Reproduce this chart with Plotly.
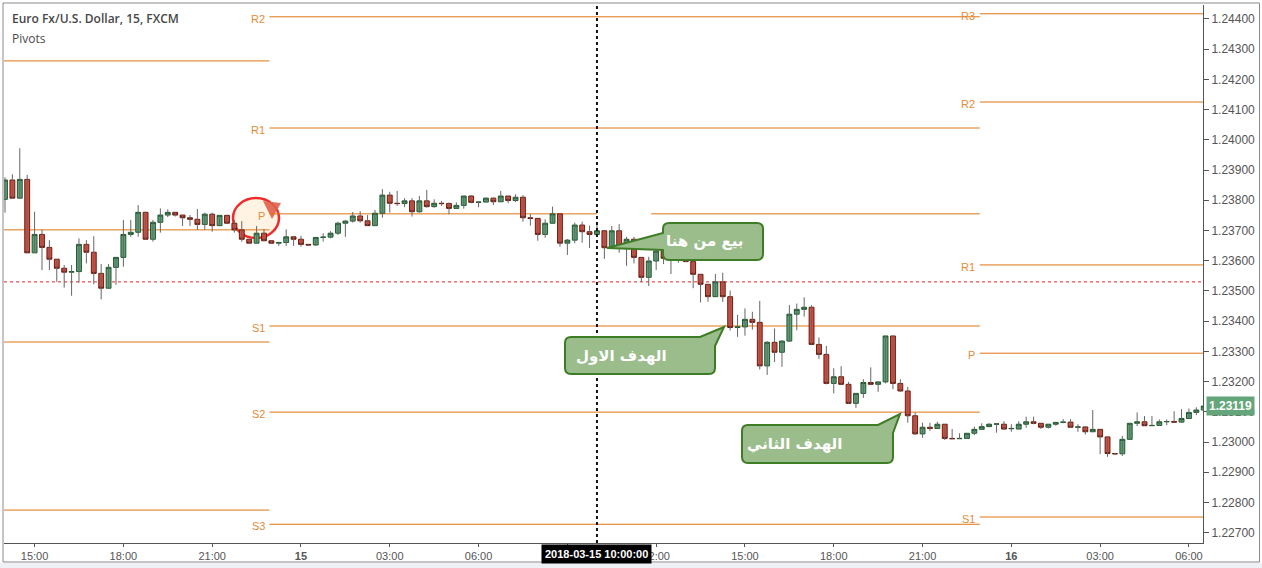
import numpy as np
import pandas as pd
import plotly.graph_objects as go

# ---------------- data ----------------
start_time = "2018-03-14 14:00"

opens = [1.23803,1.23867,1.23807,1.23869,1.23626,1.23687,1.23644,1.23605,1.23575,1.23562,
         1.23564,1.23654,1.23628,1.23558,1.23509,1.23578,1.23611,1.23687,1.23694,1.23760,
         1.23671,1.23727,1.23751,1.23760,1.23751,1.23742,1.23737,1.23720,1.23754,1.23716,
         1.23750,1.23724,1.23702,1.23671,1.23658,1.23691,1.23666,1.23658,1.23660,1.23679,
         1.23671,1.23654,1.23652,1.23677,1.23678,1.23691,1.23724,1.23731,1.23748,1.23732,
         1.23716,1.23757,1.23817,1.23790,1.23789,1.23798,1.23762,1.23798,1.23779,1.23790,
         1.23789,1.23773,1.23783,1.23814,1.23793,1.23794,1.23807,1.23795,1.23814,1.23799,
         1.23810,1.23742,1.23740,1.23687,1.23724,1.23755,1.23658,1.23668,1.23718,1.23696,
         1.23687,1.23699,1.23643,1.23699,1.23646,1.23671,1.23611,1.23545,1.23599,1.23632,
         1.23608,1.23632,1.23619,1.23597,1.23555,1.23522,1.23481,1.23530,1.23481,1.23379,
         1.23381,1.23406,1.23396,1.23252,1.23330,1.23297,1.23334,1.23423,1.23439,1.23446,
         1.23323,1.23290,1.23194,1.23216,1.23191,1.23128,1.23161,1.23197,1.23191,1.23199,
         1.23351,1.23194,1.23169,1.23087,1.23027,1.23049,1.23045,1.23059,1.23012,1.23011,
         1.23012,1.23029,1.23042,1.23051,1.23059,1.23059,1.23044,1.23043,1.23059,1.23067,
         1.23062,1.23049,1.23059,1.23065,1.23066,1.23049,1.23050,1.23034,1.23042,1.23017,
         1.22962,1.22961,1.23009,1.23062,1.23067,1.23054,1.23055,1.23067,1.23068,1.23066,
         1.23078,1.23098,1.23106]
highs = [1.23876,1.23886,1.23972,1.23884,1.23762,1.23702,1.23668,1.23605,1.23586,1.23586,
         1.23674,1.23668,1.23681,1.23589,1.23589,1.23611,1.23735,1.23735,1.23784,1.23762,
         1.23735,1.23773,1.23770,1.23760,1.23751,1.23751,1.23771,1.23759,1.23759,1.23750,
         1.23750,1.23735,1.23731,1.23671,1.23715,1.23704,1.23666,1.23663,1.23704,1.23682,
         1.23682,1.23655,1.23677,1.23691,1.23698,1.23729,1.23735,1.23761,1.23764,1.23751,
         1.23768,1.23837,1.23828,1.23831,1.23807,1.23807,1.23814,1.23834,1.23803,1.23798,
         1.23793,1.23793,1.23814,1.23817,1.23794,1.23809,1.23809,1.23831,1.23814,1.23820,
         1.23817,1.23754,1.23740,1.23737,1.23779,1.23755,1.23672,1.23726,1.23729,1.23716,
         1.23724,1.23699,1.23715,1.23721,1.23679,1.23679,1.23611,1.23613,1.23671,1.23658,
         1.23643,1.23639,1.23619,1.23611,1.23555,1.23522,1.23556,1.23560,1.23501,1.23421,
         1.23442,1.23431,1.23467,1.23334,1.23376,1.23337,1.23453,1.23458,1.23479,1.23453,
         1.23346,1.23318,1.23244,1.23251,1.23199,1.23161,1.23208,1.23247,1.23199,1.23351,
         1.23351,1.23208,1.23183,1.23098,1.23064,1.23064,1.23067,1.23059,1.23043,1.23029,
         1.23029,1.23051,1.23062,1.23062,1.23062,1.23069,1.23059,1.23069,1.23084,1.23084,
         1.23062,1.23059,1.23067,1.23076,1.23076,1.23059,1.23053,1.23106,1.23042,1.23017,
         1.22964,1.23020,1.23062,1.23098,1.23086,1.23086,1.23075,1.23075,1.23102,1.23109,
         1.23111,1.23115,1.23131]
lows = [1.23759,1.23804,1.23807,1.23626,1.23626,1.23569,1.23569,1.23530,1.23511,1.23484,
        1.23527,1.23591,1.23522,1.23472,1.23509,1.23520,1.23580,1.23679,1.23679,1.23671,
        1.23663,1.23693,1.23744,1.23746,1.23715,1.23715,1.23702,1.23702,1.23696,1.23716,
        1.23724,1.23693,1.23663,1.23658,1.23658,1.23666,1.23658,1.23649,1.23649,1.23649,
        1.23646,1.23650,1.23649,1.23663,1.23674,1.23685,1.23679,1.23726,1.23726,1.23716,
        1.23716,1.23742,1.23759,1.23781,1.23777,1.23746,1.23759,1.23775,1.23775,1.23781,
        1.23754,1.23772,1.23772,1.23790,1.23777,1.23794,1.23784,1.23794,1.23790,1.23794,
        1.23729,1.23716,1.23666,1.23676,1.23724,1.23646,1.23619,1.23658,1.23660,1.23642,
        1.23682,1.23606,1.23643,1.23626,1.23583,1.23591,1.23529,1.23516,1.23569,1.23589,
        1.23556,1.23593,1.23597,1.23509,1.23462,1.23464,1.23481,1.23464,1.23369,1.23348,
        1.23352,1.23372,1.23240,1.23222,1.23265,1.23249,1.23332,1.23370,1.23415,1.23323,
        1.23275,1.23191,1.23161,1.23191,1.23128,1.23113,1.23146,1.23191,1.23166,1.23194,
        1.23175,1.23166,1.23064,1.23024,1.23014,1.23037,1.23045,1.23007,1.23010,1.23010,
        1.23010,1.23023,1.23040,1.23051,1.23031,1.23040,1.23034,1.23043,1.23047,1.23059,
        1.23043,1.23045,1.23054,1.23062,1.23049,1.23034,1.23025,1.23034,1.22960,1.22951,
        1.22960,1.22954,1.23007,1.23053,1.23054,1.23053,1.23054,1.23056,1.23064,1.23064,
        1.23076,1.23089,1.23082]
closes = [1.23867,1.23807,1.23869,1.23626,1.23687,1.23644,1.23605,1.23575,1.23562,1.23564,
          1.23654,1.23628,1.23558,1.23509,1.23578,1.23611,1.23687,1.23694,1.23760,1.23671,
          1.23727,1.23751,1.23760,1.23751,1.23742,1.23737,1.23720,1.23754,1.23716,1.23750,
          1.23724,1.23702,1.23671,1.23658,1.23691,1.23666,1.23658,1.23660,1.23679,1.23671,
          1.23654,1.23652,1.23677,1.23678,1.23691,1.23724,1.23731,1.23748,1.23732,1.23716,
          1.23757,1.23817,1.23790,1.23789,1.23798,1.23762,1.23798,1.23779,1.23790,1.23789,
          1.23773,1.23783,1.23814,1.23793,1.23794,1.23807,1.23795,1.23814,1.23799,1.23810,
          1.23742,1.23740,1.23687,1.23724,1.23755,1.23658,1.23668,1.23718,1.23696,1.23687,
          1.23699,1.23643,1.23699,1.23646,1.23671,1.23611,1.23545,1.23599,1.23632,1.23608,
          1.23632,1.23619,1.23597,1.23555,1.23522,1.23481,1.23530,1.23481,1.23379,1.23381,
          1.23406,1.23396,1.23252,1.23330,1.23297,1.23334,1.23423,1.23439,1.23446,1.23323,
          1.23290,1.23194,1.23216,1.23191,1.23128,1.23161,1.23197,1.23191,1.23199,1.23351,
          1.23194,1.23169,1.23087,1.23027,1.23049,1.23045,1.23059,1.23012,1.23011,1.23012,
          1.23029,1.23042,1.23051,1.23059,1.23060,1.23043,1.23045,1.23059,1.23067,1.23062,
          1.23049,1.23059,1.23065,1.23066,1.23049,1.23050,1.23034,1.23042,1.23017,1.22962,
          1.22961,1.23009,1.23062,1.23067,1.23054,1.23055,1.23067,1.23068,1.23066,1.23078,
          1.23098,1.23106,1.23119]

tick_times = ["2018-03-14 15:00", "2018-03-14 18:00", "2018-03-14 21:00", "2018-03-15 00:00",
              "2018-03-15 03:00", "2018-03-15 06:00", "2018-03-15 09:00", "2018-03-15 12:00",
              "2018-03-15 15:00", "2018-03-15 18:00", "2018-03-15 21:00", "2018-03-16 00:00",
              "2018-03-16 03:00", "2018-03-16 06:00"]
tick_labels = ["15:00", "18:00", "21:00", "<b>15</b>", "03:00", "06:00", "09:00", "12:00",
               "15:00", "18:00", "21:00", "<b>16</b>", "03:00", "06:00"]
price_ticks = [1.227, 1.228, 1.229, 1.230, 1.231, 1.232, 1.233, 1.234, 1.235,
               1.236, 1.237, 1.238, 1.239, 1.240, 1.241, 1.242, 1.243, 1.244]

# daily pivot levels (session boundaries at 23:00)
sessions = ["2018-03-14 13:00", "2018-03-14 22:56", "2018-03-15 22:56", "2018-03-16 07:00"]
piv1_names = ["R1", "P", "S1", "S2"]
piv1_vals = [1.24261, 1.23702, 1.23331, 1.22775]
piv2_names = ["R2", "R1", "P", "S1", "S2", "S3"]
piv2_vals = [1.24407, 1.24039, 1.23755, 1.23384, 1.23099, 1.22728]
piv3_names = ["R3", "R2", "R1", "P", "S1"]
piv3_vals = [1.24417, 1.24125, 1.23586, 1.23294, 1.22752]

prev_close_line = 1.23530
marker_time = "2018-03-15 10:00"
last_price = closes[-1]

times = pd.date_range(start_time, periods=len(opens), freq="15min")

# ---------------- styling ----------------
ORANGE = "#e07512"
ORANGE_TXT = "#e58a38"
GREEN_FILL, GREEN_LINE = "#5c9f74", "#1f5a30"
RED_FILL, RED_LINE = "#d84a3a", "#6e1a10"
AXIS_C = "#555555"
CALL_FILL, CALL_LINE = "#9bbd8c", "#3e7d25"

PX_L, PX_R, PX_T, PX_B = 4, 1203, 5, 543


def paper(x, y):
    return (x - PX_L) / (PX_R - PX_L), (PX_B - y) / (PX_B - PX_T)


def P(x, y):
    fx, fy = paper(x, y)
    return f"{fx:.5f},{fy:.5f}"


fig = go.Figure()

# wicks
wx, wy = [], []
for t, lo, hi in zip(times, lows, highs):
    wx += [t, t, None]
    wy += [lo, hi, None]
fig.add_trace(go.Scatter(x=wx, y=wy, mode="lines", line=dict(color="#666666", width=1),
                         hoverinfo="skip", showlegend=False))

o = np.array(opens)
c = np.array(closes)
fig.add_trace(go.Candlestick(
    x=times, open=o, close=c, high=np.maximum(o, c), low=np.minimum(o, c),
    increasing=dict(line=dict(color=GREEN_LINE, width=1), fillcolor=GREEN_FILL),
    decreasing=dict(line=dict(color=RED_LINE, width=1), fillcolor=RED_FILL),
    whiskerwidth=0, showlegend=False, hoverinfo="skip"))

shapes = []
annotations = []


def pivot_block(x0, x1, names, vals, label_shift):
    for n, v in zip(names, vals):
        if n == "P" and x0 == sessions[1]:
            segs = [(x0, marker_time), ("2018-03-15 11:50", x1)]
        else:
            segs = [(x0, x1)]
        for a, b in segs:
            shapes.append(dict(type="line", xref="x", yref="y", x0=a, x1=b, y0=v, y1=v,
                               line=dict(color=ORANGE, width=1), layer="below"))
        annotations.append(dict(x=x0, y=v, xref="x", yref="y", text=n, showarrow=False,
                                xanchor="right", yanchor="middle", xshift=label_shift, yshift=-2,
                                font=dict(family="Liberation Sans, Arial", size=11, color=ORANGE_TXT)))


pivot_block(sessions[0], sessions[1], piv1_names, piv1_vals, -2)
pivot_block(sessions[1], sessions[2], piv2_names, piv2_vals, -2)
pivot_block(sessions[2], sessions[3], piv3_names, piv3_vals, -3)

# red dotted price line
shapes.append(dict(type="line", xref="paper", yref="y", x0=0, x1=1, y0=prev_close_line, y1=prev_close_line,
                   line=dict(color="#e3262a", width=1, dash="dot"), layer="below"))

# highlight circle around P label
cx0, cy0 = paper(233, 198)
cx1, cy1 = paper(279, 238)
shapes.append(dict(type="circle", xref="paper", yref="paper", x0=cx0, y0=cy1, x1=cx1, y1=cy0,
                   fillcolor="rgba(255,243,226,0.92)", line=dict(color="#f02a2a", width=2.5), layer="below"))
shapes.append(dict(type="path", xref="paper", yref="paper",
                   path=f"M{P(263,201)} L{P(281,203)} L{P(272,219)} Z",
                   fillcolor="rgba(222,96,74,0.9)", line=dict(width=0), layer="below"))

# vertical dotted marker line
shapes.append(dict(type="line", xref="x", yref="paper", x0=marker_time, x1=marker_time, y0=0, y1=1,
                   line=dict(color="#111111", width=2, dash="dot"), layer="above"))

# callouts
r = 6
call1 = (f"M{P(663+r,223)} L{P(763-r,223)} Q{P(763,223)} {P(763,223+r)} L{P(763,260-r)} "
         f"Q{P(763,260)} {P(763-r,260)} L{P(663+r,260)} Q{P(663,260)} {P(663,260-r)} "
         f"L{P(663,250)} L{P(607,248)} L{P(663,233)} L{P(663,223+r)} Q{P(663,223)} {P(663+r,223)} Z")
call2 = (f"M{P(565+r,337)} L{P(700,337)} L{P(724,327)} L{P(715,346)} L{P(715,374-r)} "
         f"Q{P(715,374)} {P(715-r,374)} L{P(565+r,374)} Q{P(565,374)} {P(565,374-r)} "
         f"L{P(565,337+r)} Q{P(565,337)} {P(565+r,337)} Z")
call3 = (f"M{P(742+r,425)} L{P(878,425)} L{P(900,414)} L{P(893,433)} L{P(893,463-r)} "
         f"Q{P(893,463)} {P(893-r,463)} L{P(742+r,463)} Q{P(742,463)} {P(742,463-r)} "
         f"L{P(742,425+r)} Q{P(742,425)} {P(742+r,425)} Z")
for pth in (call1, call2, call3):
    shapes.append(dict(type="path", xref="paper", yref="paper", path=pth,
                       fillcolor=CALL_FILL, line=dict(color=CALL_LINE, width=2), layer="above"))

for txt, (tx, ty) in [("بيع من هنا", (704, 241)), ("الهدف الاول", (621, 356)), ("الهدف الثاني", (794, 444))]:
    fx, fy = paper(tx, ty)
    annotations.append(dict(x=fx, y=fy, xref="paper", yref="paper", text=f"<b>{txt}</b>", showarrow=False,
                            xanchor="center", yanchor="middle",
                            font=dict(family="DejaVu Sans", size=15, color="white")))

# outer frame and bottom strip
fx0, fy0 = paper(3, 562)
fx1, fy1 = paper(1259.5, 3)
shapes.append(dict(type="rect", xref="paper", yref="paper", x0=fx0, y0=fy0, x1=fx1, y1=fy1,
                   line=dict(color="#8a8a8a", width=1), fillcolor="rgba(0,0,0,0)", layer="above"))
gx0, gy0 = paper(0, 568)
gx1, gy1 = paper(1262, 563)
shapes.append(dict(type="rect", xref="paper", yref="paper", x0=gx0, y0=gy0, x1=gx1, y1=gy1,
                   line=dict(width=0), fillcolor="#eef1f6", layer="above"))

# titles
tx, ty = paper(12, 19)
annotations.append(dict(x=tx, y=ty, xref="paper", yref="paper", text="Euro Fx/U.S. Dollar, 15, FXCM",
                        showarrow=False, xanchor="left", yanchor="middle", xshift=-2,
                        font=dict(family="Open Sans", size=12, color="#474747", weight=600)))
tx, ty = paper(12, 38)
annotations.append(dict(x=tx, y=ty, xref="paper", yref="paper", text="Pivots",
                        showarrow=False, xanchor="left", yanchor="middle", xshift=-2,
                        font=dict(family="Open Sans", size=12, color="#4a4a4a")))

# time marker label
annotations.append(dict(x=marker_time, y=0, xref="x", yref="paper", text="<b>2018-03-15 10:00:00</b>",
                        showarrow=False, xanchor="center", yanchor="top", yshift=-1,
                        bgcolor="#000000", borderpad=3,
                        font=dict(family="Liberation Sans, Arial", size=11, color="white")))
# last price label
annotations.append(dict(x=1, y=last_price, xref="paper", yref="y", text=f"<b>{last_price:.5f}</b>",
                        showarrow=False, xanchor="left", yanchor="middle", xshift=3,
                        bgcolor="#64a57a", borderpad=2,
                        font=dict(family="Liberation Sans, Arial", size=12, color="white")))

fig.update_layout(
    width=1262, height=568,
    margin=dict(l=PX_L, r=1262 - PX_R, t=PX_T, b=568 - PX_B),
    paper_bgcolor="white", plot_bgcolor="white", showlegend=False,
    boxgap=0.19, boxgroupgap=0.19,
    shapes=shapes, annotations=annotations,
    xaxis=dict(type="date", range=["2018-03-14 13:58", "2018-03-16 06:28:30"],
               tickvals=tick_times, ticktext=tick_labels, ticks="outside", ticklen=3,
               tickcolor=AXIS_C, showline=True, linecolor=AXIS_C, linewidth=1,
               showgrid=False, zeroline=False, rangeslider=dict(visible=False),
               tickfont=dict(family="Liberation Sans, Arial", size=11, color=AXIS_C)),
    yaxis=dict(side="right", range=[1.22666, 1.24446], tickvals=price_ticks, tickformat=".5f",
               ticks="outside", ticklen=5, tickcolor=AXIS_C, showline=True, linecolor=AXIS_C,
               linewidth=1, showgrid=False, zeroline=False,
               tickfont=dict(family="Liberation Sans, Arial", size=12, color=AXIS_C)),
)

fig.write_html("out.html", config={"displayModeBar": False},
               post_script="document.body.style.margin='0';")
